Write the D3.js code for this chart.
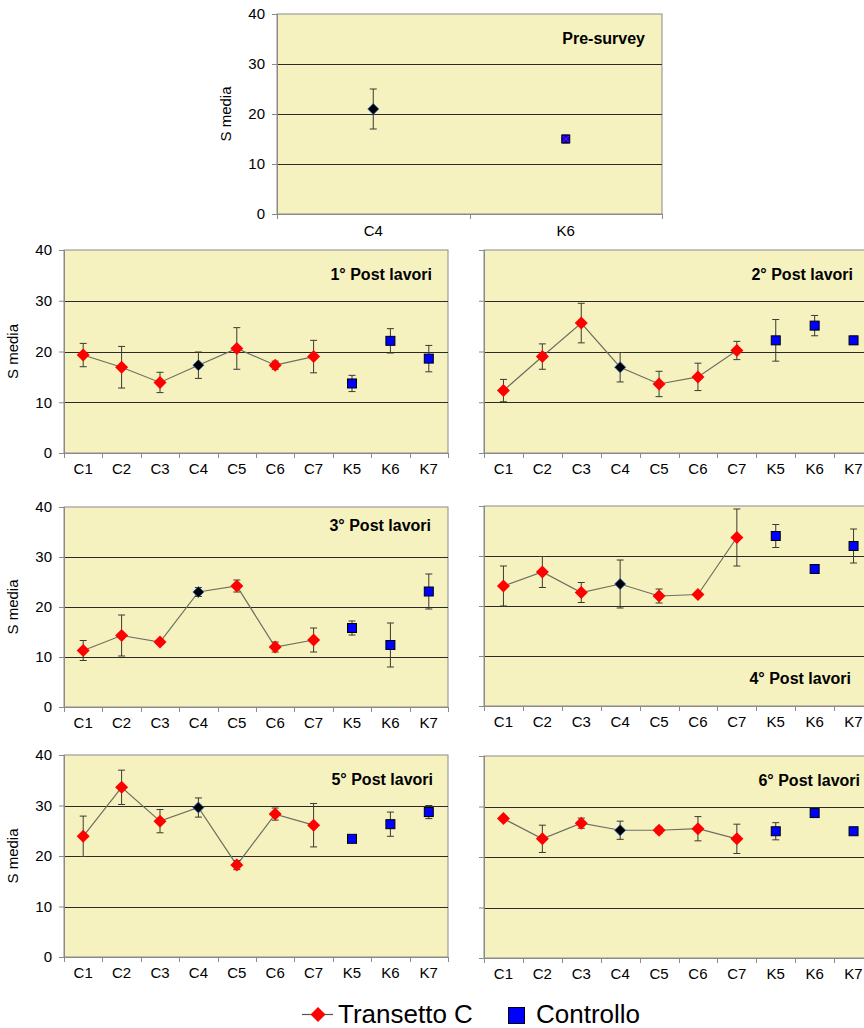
<!DOCTYPE html>
<html><head><meta charset="utf-8">
<script src="https://cdn.jsdelivr.net/npm/d3@7"></script>
<style>
html,body{margin:0;padding:0;background:#fff;}
svg{display:block;font-family:"Liberation Sans",Arial,sans-serif;}
</style></head>
<body><svg id="chart" width="864" height="1028"></svg>
<script>
// ---------- DATA ----------
const preCategories = ["C4", "K6"];
const preValues = [21.0, 15.0];
const preErrors = [4.0, 0.8];

const categories = ["C1","C2","C3","C4","C5","C6","C7","K5","K6","K7"];
const panelTitles = ["Pre-survey","1° Post lavori","2° Post lavori","3° Post lavori","4° Post lavori","5° Post lavori","6° Post lavori"];

const post1Values = [19.3,16.9,13.9,17.3,20.6,17.3,19.0,13.7,22.1,18.6];
const post1Errors = [2.3,4.1,2.0,2.6,4.1,0.8,3.2,1.6,2.4,2.6];
const post2Values = [12.3,19.0,25.6,16.9,13.6,15.0,20.2,22.2,25.1,22.2];
const post2Errors = [2.2,2.5,3.9,2.9,2.5,2.7,1.8,4.1,2.0,0.8];
const post3Values = [11.3,14.3,13.0,23.0,24.2,12.0,13.4,15.8,12.4,23.1];
const post3Errors = [2.0,4.1,0.5,0.9,1.2,1.0,2.4,1.4,4.4,3.5];
const post4Values = [24.0,26.8,22.7,24.4,22.0,22.3,33.7,34.0,27.4,32.0];
const post4Errors = [4.0,3.1,2.0,4.8,1.4,0.3,5.7,2.3,0.5,3.4];
const post5Values = [23.9,33.6,26.9,29.6,18.2,28.3,26.1,23.4,26.3,28.7];
const post5Errors = [4.0,3.4,2.3,1.9,0.9,1.2,4.3,0.5,2.4,1.3];
const post6Values = [27.6,23.6,26.7,25.3,25.3,25.6,23.6,25.1,28.7,25.1];
const post6Errors = [0.5,2.7,1.0,1.8,0.6,2.4,2.9,1.7,0.5,0.4];

const yTicks = [0,10,20,30,40];
const referenceStation = "C4";
const legendLabels = ["Transetto C","Controllo"];

// ---------- LAYOUT ----------
const panels = [
  {cats: preCategories, vals: preValues, errs: preErrors, title: panelTitles[0], x0:277, x1:662, top:14, bottom:214, yLabels:true, tx:645, ty:44, lblOff:22, connect:false},
  {cats: categories, vals: post1Values, errs: post1Errors, title: panelTitles[1], x0:64, x1:448, top:250, bottom:453, yLabels:true, tx:432, ty:280, lblOff:21, connect:true},
  {cats: categories, vals: post2Values, errs: post2Errors, title: panelTitles[2], x0:484, x1:873, top:250, bottom:453, yLabels:false, tx:853, ty:280, lblOff:21, connect:true},
  {cats: categories, vals: post3Values, errs: post3Errors, title: panelTitles[3], x0:64, x1:448, top:507, bottom:707, yLabels:true, tx:431, ty:531, lblOff:21, connect:true},
  {cats: categories, vals: post4Values, errs: post4Errors, title: panelTitles[4], x0:484, x1:873, top:506, bottom:706, yLabels:false, tx:851, ty:684, lblOff:21, connect:true},
  {cats: categories, vals: post5Values, errs: post5Errors, title: panelTitles[5], x0:64, x1:448, top:755, bottom:957, yLabels:true, tx:433, ty:785, lblOff:21, connect:true},
  {cats: categories, vals: post6Values, errs: post6Errors, title: panelTitles[6], x0:484, x1:873, top:756, bottom:958, yLabels:false, tx:860, ty:786, lblOff:21, connect:true}
];

const svg = d3.select("#chart");
const BG = "#F6F2C0", AXIS = "#8a8a8a", GRID = "#2a2a2a", ERR = "#3a3a30", LINE = "#6e6e60";

panels.forEach((p, pi) => {
  const x = d3.scaleBand().domain(p.cats).range([p.x0, p.x1]).paddingInner(0).paddingOuter(0);
  const y = d3.scaleLinear().domain([0, 40]).range([p.bottom, p.top]);
  const g = svg.append("g");

  g.append("rect").attr("x", p.x0).attr("y", p.top).attr("width", p.x1 - p.x0).attr("height", p.bottom - p.top)
    .attr("fill", BG).attr("stroke", AXIS).attr("stroke-width", 1);

  // gridlines
  g.selectAll(".grid").data(yTicks.filter(t => t > 0 && t < 40)).join("line")
    .attr("x1", p.x0).attr("x2", p.x1).attr("y1", d => Math.round(y(d)) + 0.5).attr("y2", d => Math.round(y(d)) + 0.5)
    .attr("stroke", GRID).attr("stroke-width", 1);

  // y axis
  const yAxis = d3.axisLeft(y).tickValues(yTicks).tickSize(5).tickPadding(7)
    .tickFormat(p.yLabels ? d3.format("d") : () => "");
  const ya = g.append("g").attr("transform", `translate(${p.x0},0)`).call(yAxis);
  ya.select(".domain").attr("stroke", AXIS);
  ya.selectAll(".tick line").attr("stroke", AXIS);
  ya.selectAll(".tick text").attr("font-size", 15).attr("fill", "#000")
    .attr("font-family", '"Liberation Sans",Arial,sans-serif');

  // x axis (ticks between categories)
  const edges = p.cats.map(c => x(c)).concat([p.x1]);
  g.selectAll(".xt").data(edges).join("line")
    .attr("x1", d => Math.round(d) + 0.5).attr("x2", d => Math.round(d) + 0.5)
    .attr("y1", p.bottom).attr("y2", p.bottom + 5).attr("stroke", AXIS);
  g.append("line").attr("x1", p.x0).attr("x2", p.x1).attr("y1", p.bottom + 0.5).attr("y2", p.bottom + 0.5).attr("stroke", AXIS);
  g.selectAll(".xl").data(p.cats).join("text")
    .attr("x", d => x(d) + x.bandwidth() / 2).attr("y", p.bottom + p.lblOff)
    .attr("text-anchor", "middle").attr("font-size", 15).text(d => d);

  if (p.yLabels) {
    const cy = (p.top + p.bottom) / 2;
    g.append("text").attr("transform", `translate(${p.x0 - 46},${cy}) rotate(-90)`)
      .attr("text-anchor", "middle").attr("font-size", 15).text("S media");
  }

  // title
  g.append("text").attr("x", p.tx).attr("y", p.ty).attr("text-anchor", "end")
    .attr("font-size", 16).attr("font-weight", "bold").text(p.title);

  const pts = p.cats.map((c, i) => ({c, v: p.vals[i], e: p.errs[i], cx: x(c) + x.bandwidth() / 2}));

  // connecting line for Transetto C
  if (p.connect) {
    const tr = pts.filter(d => d.c.startsWith("C"));
    g.append("path").attr("d", d3.line().x(d => d.cx).y(d => y(d.v))(tr))
      .attr("fill", "none").attr("stroke", LINE).attr("stroke-width", 1.2);
  }

  // error bars
  const eb = g.selectAll(".eb").data(pts).join("g");
  eb.append("line").attr("x1", d => d.cx).attr("x2", d => d.cx)
    .attr("y1", d => y(d.v + d.e)).attr("y2", d => y(d.v - d.e)).attr("stroke", ERR).attr("stroke-width", 1);
  [1, -1].forEach(s => {
    eb.append("line").attr("x1", d => d.cx - 3.5).attr("x2", d => d.cx + 3.5)
      .attr("y1", d => y(d.v + s * d.e)).attr("y2", d => y(d.v + s * d.e)).attr("stroke", ERR).attr("stroke-width", 1);
  });

  // markers
  pts.forEach(d => {
    const cy = y(d.v);
    if (d.c === referenceStation) {
      const r = 5.5;
      g.append("path").attr("d", `M${d.cx},${cy - r}L${d.cx + r},${cy}L${d.cx},${cy + r}L${d.cx - r},${cy}Z`)
        .attr("fill", "#000").attr("stroke", "#1f5fd0").attr("stroke-width", 0.8);
    } else if (d.c.startsWith("C")) {
      const r = 6.5;
      g.append("path").attr("d", `M${d.cx},${cy - r}L${d.cx + r},${cy}L${d.cx},${cy + r}L${d.cx - r},${cy}Z`)
        .attr("fill", "#ff0000");
    } else {
      const s = pi === 0 ? 8 : 9;
      g.append("rect").attr("x", d.cx - s / 2).attr("y", cy - s / 2).attr("width", s).attr("height", s)
        .attr("fill", "#0000ff").attr("stroke", "#000").attr("stroke-width", 1);
      if (pi === 0) {
        g.append("path").attr("d", `M${d.cx - 3},${cy - 3}L${d.cx + 3},${cy + 3}M${d.cx - 3},${cy + 3}L${d.cx + 3},${cy - 3}`)
          .attr("stroke", "#b000a0").attr("stroke-width", 1);
      }
    }
  });
});

// ---------- LEGEND ----------
const lg = svg.append("g");
lg.append("line").attr("x1", 302).attr("x2", 333).attr("y1", 1014.5).attr("y2", 1014.5).attr("stroke", "#555").attr("stroke-width", 1.2);
lg.append("path").attr("d", "M318,1007L325.5,1014.5L318,1022L310.5,1014.5Z").attr("fill", "#ff0000");
lg.append("text").attr("x", 338).attr("y", 1023).attr("font-size", 26).text(legendLabels[0]);
lg.append("rect").attr("x", 508.5).attr("y", 1007.5).attr("width", 16).attr("height", 16).attr("fill", "#0000ff").attr("stroke", "#000");
lg.append("text").attr("x", 536).attr("y", 1023).attr("font-size", 26).text(legendLabels[1]);
</script></body></html>
